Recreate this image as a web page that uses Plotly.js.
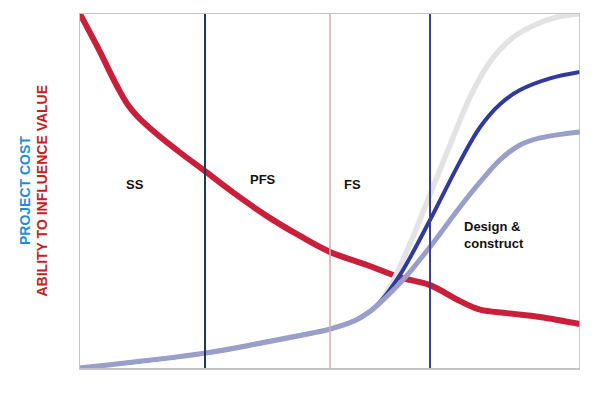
<!DOCTYPE html>
<html>
<head>
<meta charset="utf-8">
<script src="https://cdn.plot.ly/plotly-3.0.1.min.js"></script>
<style>html,body{margin:0;padding:0;background:#fff;}#chart{width:602px;height:395px;}</style>
</head>
<body>
<div id="chart"></div>
<script>
// Ability to influence value (red)
const influenceX = [0, 3.6, 7.6, 9.6, 11.6, 15.6, 19.6, 25, 30.6, 37.4, 44, 50, 57.4, 64, 70, 76, 80, 85.4, 92, 100];
const influenceY = [100, 90.4, 79.1, 74.3, 70.9, 65.8, 61.3, 55.6, 49.6, 42.9, 37.3, 32.8, 29.1, 25.6, 23.4, 18.9, 16.5, 15.5, 14.4, 12.4];

// Project cost curves (shared early section, then three outcomes)
const grayX = [0, 25, 36, 44, 50, 55, 58, 60, 62, 66, 70, 74, 78, 82, 86, 90, 95, 100];
const grayY = [0, 4.2, 7, 9.2, 11, 13.4, 16, 18.6, 22.9, 35, 49, 63, 76.5, 86.5, 92.7, 96.3, 99, 100];

const blueX = [0, 25, 36, 44, 50, 55, 58, 60, 64, 70, 76, 80, 84, 88, 94, 100];
const blueY = [0, 4.2, 7, 9.2, 11, 13.4, 16, 18.6, 26.3, 41.8, 58.3, 68, 74.5, 78.5, 81.8, 83.6];

const lavX = [0, 25, 36, 44, 50, 55, 58, 60, 64.6, 70, 76, 80, 84, 88, 92, 100];
const lavY = [0, 4.2, 7, 9.2, 11, 13.4, 16, 18.4, 24.9, 34.2, 45.5, 52.5, 58.8, 63, 65, 66.7];

// Phase boundaries and labels
const phaseX = [25, 50, 70, 100];
const phaseColors = ['#1c3a56', '#dba7ae', '#3a3f9c', '#eea0a4'];
const phaseWidths = [2, 1.5, 2, 1.5];
const labelText = ['SS', 'PFS', 'FS', 'Design &<br>construct'];
const labelX = [11, 36.6, 54.4, 76.4];
const labelY = [51.7, 53.2, 51.7, 37.6];

const traces = [
  {x: influenceX, y: influenceY, mode: 'lines', line: {color: '#c8203a', width: 6, shape: 'spline', smoothing: 1}, hoverinfo: 'skip'},
  {x: grayX, y: grayY, mode: 'lines', line: {color: '#e3e3e3', width: 5.5, shape: 'spline', smoothing: 1}, hoverinfo: 'skip'},
  {x: blueX, y: blueY, mode: 'lines', line: {color: '#2f3a9c', width: 4, shape: 'spline', smoothing: 1}, hoverinfo: 'skip'},
  {x: lavX, y: lavY, mode: 'lines', line: {color: '#9a9fca', width: 5, shape: 'spline', smoothing: 1}, hoverinfo: 'skip'}
];

const shapes = phaseX.map((px, i) => ({
  type: 'line', xref: 'x', yref: 'paper', x0: px, x1: px, y0: 0, y1: 1,
  line: {color: phaseColors[i], width: phaseWidths[i]}, layer: 'above'
}));

const annotations = labelText.map((t, i) => ({
  x: labelX[i], y: labelY[i], xref: 'x', yref: 'y', text: '<b>' + t + '</b>', showarrow: false,
  xanchor: i === 3 ? 'left' : 'center', align: 'left',
  font: {family: 'Liberation Sans, Arial, sans-serif', size: 13, color: '#111'}
}));
annotations.push({
  xref: 'paper', yref: 'paper', x: -0.11, y: 0.5, text: '<b>PROJECT COST</b>', textangle: -90,
  showarrow: false, xanchor: 'center', yanchor: 'middle',
  font: {family: 'Liberation Sans, Arial, sans-serif', size: 14, color: '#1e8fd6'}
});
annotations.push({
  xref: 'paper', yref: 'paper', x: -0.077, y: 0.5, text: '<b>ABILITY TO INFLUENCE VALUE</b>', textangle: -90,
  showarrow: false, xanchor: 'center', yanchor: 'middle',
  font: {family: 'Liberation Sans, Arial, sans-serif', size: 14, color: '#c8201e'}
});

const layout = {
  width: 602, height: 395,
  margin: {l: 80, r: 22, t: 14, b: 27},
  paper_bgcolor: '#fff', plot_bgcolor: '#fff',
  showlegend: false,
  xaxis: {range: [0, 100], showgrid: false, zeroline: false, showticklabels: false, ticks: '',
          showline: true, mirror: true, linecolor: '#c4c4c4', linewidth: 1.5, fixedrange: true},
  yaxis: {range: [0, 100], showgrid: false, zeroline: false, showticklabels: false, ticks: '',
          showline: true, linecolor: '#c4c4c4', linewidth: 1.5, fixedrange: true},
  shapes: shapes,
  annotations: annotations
};

Plotly.newPlot('chart', traces, layout, {displayModeBar: false, staticPlot: true});
</script>
</body>
</html>
